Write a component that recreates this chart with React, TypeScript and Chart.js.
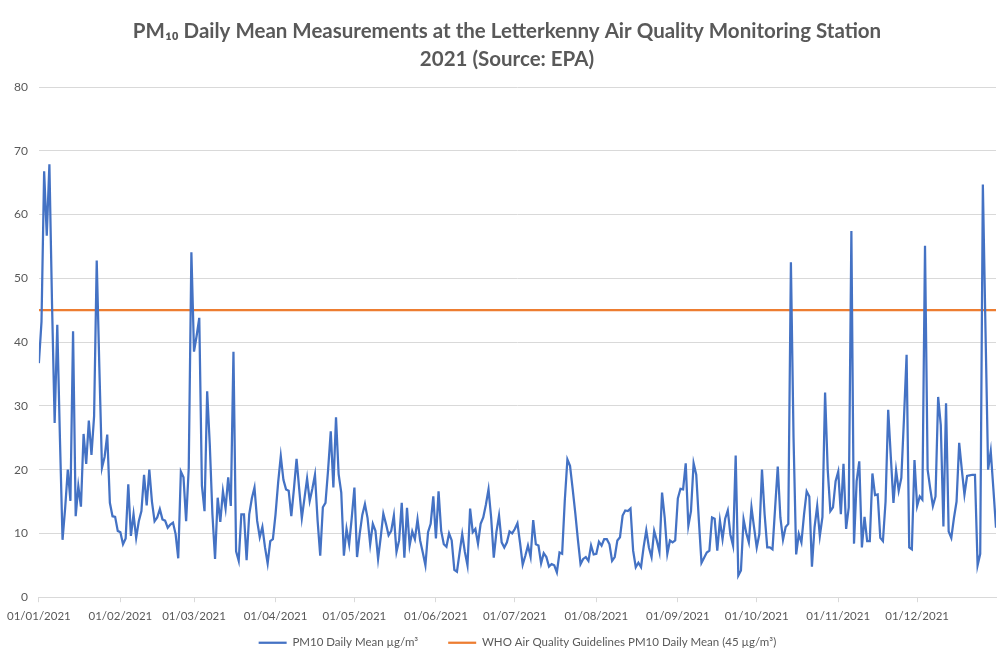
import React, { useEffect, useRef } from "react";
import { Chart, registerables } from "chart.js";

Chart.register(...registerables);

// Daily PM10 means (µg/m³), 2021, one array per month
const PM10_JAN = [36.7, 43.2, 66.8, 56.7, 67.9, 46, 27.3, 42.7, 25, 9, 14, 20, 15.1, 41.7, 12.7, 17.4, 14.2, 25.6, 20.9, 27.7, 22.3, 28.4, 52.8, 36, 20.3, 22, 25.5, 14.8, 12.7, 12.6, 10.4];
const PM10_FEB = [10.2, 8.3, 9.2, 17.7, 9.6, 13, 9.3, 11.9, 13.5, 19.2, 14.4, 20, 15, 11.9, 12.5, 13.8, 12.2, 12, 10.9, 11.4, 11.7, 9.9, 6.1, 19.7, 18.8, 11.9, 20.3, 54.1];
const PM10_MAR = [38.5, 41, 43.8, 17.5, 13.5, 32.3, 23.9, 13, 6, 15.6, 11.8, 16.6, 13.9, 18.8, 14.3, 38.5, 7.2, 5.7, 13, 13, 5.8, 13, 15.5, 17.2, 12, 9.4, 11, 7.8, 5.3, 8.8, 9.1];
const PM10_APR = [13, 18, 22.1, 18.4, 16.9, 16.7, 12.7, 17, 21.7, 17, 12.4, 15.5, 18.6, 15.1, 17, 19.2, 12, 6.5, 14.1, 14.8, 20, 26, 17.2, 28.2, 19.3, 16.4, 6.5, 10.7, 8.3, 12.5];
const PM10_MAY = [17.2, 6.3, 9.9, 12.9, 14.6, 12.4, 8.3, 11.5, 10.4, 6, 9.4, 13.1, 11.5, 9.7, 10.4, 12.8, 7.1, 8.9, 14.8, 6.2, 14, 8.1, 10.3, 9.1, 12.2, 8.9, 7, 5, 10.2, 11.5, 15.8];
const PM10_JUN = [9.2, 16.6, 10.4, 8.3, 7.9, 10, 8.9, 4.3, 4, 7, 9.9, 7.1, 5, 13.9, 10.2, 10.7, 8.4, 11.5, 12.5, 14.5, 16.9, 12.5, 6.2, 10.2, 12.8, 8.6, 7.8, 8.6, 10.3, 10];
const PM10_JUL = [10.7, 11.6, 8.5, 5.1, 6.5, 8.1, 6.3, 12.1, 8.3, 8.1, 5.3, 6.9, 6.3, 4.8, 5.2, 5, 3.9, 7, 6.8, 15.1, 21.6, 20.6, 17, 13.2, 9, 5.2, 6, 6.3, 5.7, 8.1, 6.7];
const PM10_AUG = [6.8, 8.7, 8.1, 9.1, 9.1, 8.3, 5.7, 6.3, 8.9, 9.4, 12.8, 13.6, 13.5, 13.9, 7.3, 4.7, 5.4, 4.7, 7.9, 10.5, 7.8, 6.3, 10.4, 8.9, 7.1, 16.4, 12.5, 6.8, 8.9, 8.6, 8.9];
const PM10_SEP = [15.5, 17, 16.9, 21, 11.2, 13.5, 21, 19.2, 12, 5.4, 6.2, 7, 7.3, 12.5, 12.3, 7.3, 12, 9.1, 12.3, 13.6, 9.8, 8.1, 22.2, 3.4, 4.2, 12.2, 10.1, 8.6, 14.1, 10.9];
const PM10_OCT = [7.8, 9.9, 20, 13, 7.8, 7.8, 7.5, 14, 20.5, 12.5, 9, 11, 11.5, 52.5, 25, 6.7, 9.9, 8.6, 13, 16.6, 15.8, 4.8, 11, 14.3, 9.6, 12.6, 32.1, 20, 13.5, 14.1, 18.2];
const PM10_NOV = [19.7, 13, 20.9, 10.7, 14.1, 57.4, 8.4, 18.2, 21.3, 7.8, 12.6, 8.8, 8.8, 19.4, 16, 16.1, 9.3, 8.8, 15, 29.4, 22, 14.8, 19.9, 16.7, 18.7, 28, 38, 7.8, 7.5, 21.5];
const PM10_DEC = [14.3, 15.8, 15.3, 55.1, 20, 17, 14.3, 15.8, 31.4, 27, 11.1, 30.4, 10.3, 9.3, 12.4, 15, 24.2, 20, 16.1, 19, 19.1, 19.2, 19.2, 5, 6.8, 64.7, 42, 20, 22.9, 17, 10.9];

const PM10_DAILY = [
  ...PM10_JAN, ...PM10_FEB, ...PM10_MAR, ...PM10_APR, ...PM10_MAY, ...PM10_JUN,
  ...PM10_JUL, ...PM10_AUG, ...PM10_SEP, ...PM10_OCT, ...PM10_NOV, ...PM10_DEC,
];

const WHO_LIMIT = 45;

// x-axis ticks: day index of each month start, and its label
const MONTH_START_DAYS = [0, 31, 59, 90, 120, 151, 181, 212, 243, 273, 304, 334];
const MONTH_LABELS = [
  "01/01/2021", "01/02/2021", "01/03/2021", "01/04/2021", "01/05/2021", "01/06/2021",
  "01/07/2021", "01/08/2021", "01/09/2021", "01/10/2021", "01/11/2021", "01/12/2021",
];

const TITLE_LINES = [
  "PM₁₀ Daily Mean Measurements at the Letterkenny Air Quality Monitoring Station",
  "2021 (Source: EPA)",
];
const SERIES_NAMES = [
  "PM10 Daily Mean µg/m³",
  "WHO Air Quality Guidelines PM10 Daily Mean (45 µg/m³)",
];

const TEXT = "#595959";
const GRID = "#d9d9d9";
const FONT = "Lato, 'Liberation Sans', sans-serif";

const LEGEND_GAP = 30; // horizontal gap between legend items
const LEGEND_HEIGHT = 32; // space reserved for legend row
const LEGEND_SHIFT = -23; // pull the legend row up after layout
const TITLE_SHIFT = 9;

const layoutTweaks = {
  id: "layoutTweaks",
  afterInit(chart: any) {
    const lg = chart.legend;
    if (lg && !lg.__patched) {
      const origFit = lg.fit.bind(lg);
      lg.fit = function () {
        origFit();
        this.height = LEGEND_HEIGHT;
      };
      lg.__patched = true;
    }
  },
  afterLayout(chart: any) {
    const lg = chart.legend;
    if (lg) {
      lg.top += LEGEND_SHIFT;
      lg.bottom = chart.height;
    }
    const tb = chart.titleBlock;
    if (tb) {
      tb.left += TITLE_SHIFT;
      tb.right += TITLE_SHIFT;
    }
  },
};

export default function App() {
  const ref = useRef<HTMLCanvasElement | null>(null);

  useEffect(() => {
    if (!ref.current) return;
    const lastDay = PM10_DAILY.length - 1;
    const chart = new Chart(ref.current, {
      type: "line",
      plugins: [layoutTweaks],
      data: {
        datasets: [
          {
            label: SERIES_NAMES[0],
            data: PM10_DAILY.map((v, i) => ({ x: i, y: v })),
            borderColor: "#4472C4",
            backgroundColor: "#4472C4",
            borderWidth: 2.25,
            pointRadius: 0,
            tension: 0,
          },
          {
            label: SERIES_NAMES[1],
            data: [
              { x: 0, y: WHO_LIMIT },
              { x: lastDay, y: WHO_LIMIT },
            ],
            borderColor: "#ED7D31",
            backgroundColor: "#ED7D31",
            borderWidth: 2.25,
            pointRadius: 0,
          },
        ],
      },
      options: {
        responsive: false,
        animation: false,
        layout: { padding: { left: 0, right: 8, top: 0, bottom: 0 } },
        plugins: {
          tooltip: { enabled: false },
          title: {
            display: true,
            text: TITLE_LINES,
            color: TEXT,
            font: { family: FONT, size: 20.5, weight: "bold", lineHeight: 28 / 20.5 },
            padding: { top: 17, bottom: 14 },
          },
          legend: {
            position: "bottom",
            fullSize: false,
            labels: {
              usePointStyle: true,
              pointStyle: "line",
              pointStyleWidth: 28,
              boxHeight: 11.5,
              color: TEXT,
              padding: LEGEND_GAP,
              font: { family: FONT, size: 11.5 },
            },
          },
        },
        scales: {
          x: {
            type: "linear",
            min: 0,
            max: lastDay,
            afterBuildTicks: (axis: any) => {
              axis.ticks = MONTH_START_DAYS.map((v) => ({ value: v }));
            },
            ticks: {
              autoSkip: false,
              maxRotation: 0,
              color: TEXT,
              padding: 7,
              font: { family: FONT, size: 11.5 },
              callback: (value: any) => {
                const k = MONTH_START_DAYS.indexOf(Number(value));
                return k >= 0 ? MONTH_LABELS[k] : "";
              },
            },
            grid: { drawOnChartArea: false, drawTicks: true, tickLength: 5, color: GRID },
            border: { display: true, color: GRID },
          },
          y: {
            min: 0,
            max: 80,
            afterFit: (s: any) => {
              s.width = 38;
            },
            ticks: {
              stepSize: 10,
              color: TEXT,
              padding: 11,
              font: { family: FONT, size: 12 },
            },
            grid: { color: GRID, drawTicks: false },
            border: { display: false },
          },
        },
      },
    });
    return () => chart.destroy();
  }, []);

  return (
    <div style={{ position: "absolute", left: 0, top: 0, width: 1004, height: 662, background: "#fff" }}>
      <canvas ref={ref} width={1004} height={662} />
    </div>
  );
}
